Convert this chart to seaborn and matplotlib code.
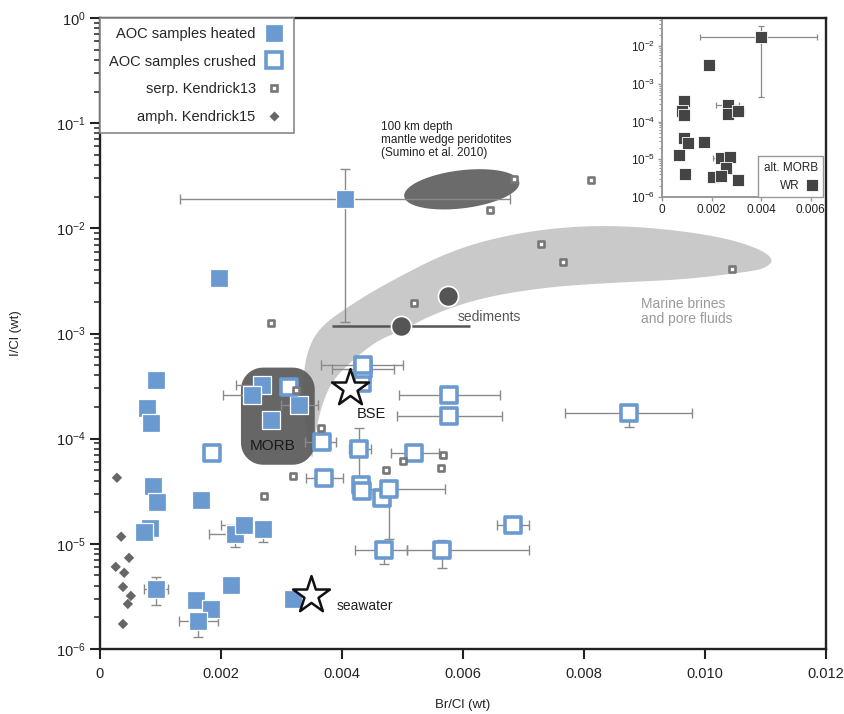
import numpy as np
import matplotlib
matplotlib.use("Agg")
import matplotlib.pyplot as plt
import seaborn as sns
from matplotlib.patches import Polygon
from matplotlib.lines import Line2D

# ---------------- data ----------------
heated_x = [0.00405, 0.00197, 0.00093, 0.00078, 0.00084, 0.00088, 0.00094, 0.00167,
            0.00083, 0.00073, 0.00093, 0.00159, 0.00183, 0.00162, 0.00217, 0.00223,
            0.00238, 0.00269, 0.00319, 0.00268, 0.00251, 0.00283, 0.00329]
heated_y = [1.89e-2, 3.34e-3, 3.65e-4, 1.97e-4, 1.42e-4, 3.57e-5, 2.51e-5, 2.63e-5,
            1.42e-5, 1.30e-5, 3.72e-6, 2.93e-6, 2.40e-6, 1.85e-6, 4.07e-6, 1.25e-5,
            1.52e-5, 1.39e-5, 2.99e-6, 3.27e-4, 2.62e-4, 1.52e-4, 2.11e-4]

crushed_x = [0.00312, 0.00185, 0.00433, 0.00435, 0.00435, 0.00577, 0.00577, 0.00367,
             0.00428, 0.00519, 0.00370, 0.00431, 0.00433, 0.00466, 0.00478, 0.00683,
             0.00469, 0.00565, 0.00874]
crushed_y = [3.13e-4, 7.36e-5, 3.40e-4, 4.60e-4, 5.07e-4, 2.62e-4, 1.66e-4, 9.36e-5,
             8.03e-5, 7.36e-5, 4.25e-5, 3.65e-5, 3.20e-5, 2.74e-5, 3.34e-5, 1.52e-5,
             8.77e-6, 8.70e-6, 1.77e-4]

serp_x = [0.00684, 0.00645, 0.00812, 0.00729, 0.00765, 0.01045, 0.00519, 0.00283,
          0.00324, 0.00365, 0.00319, 0.00271, 0.00501, 0.00567, 0.00564, 0.00473]
serp_y = [2.93e-2, 1.48e-2, 2.86e-2, 7.05e-3, 4.75e-3, 4.07e-3, 1.93e-3, 1.27e-3,
          2.93e-4, 1.27e-4, 4.44e-5, 2.87e-5, 6.17e-5, 7.04e-5, 5.30e-5, 5.07e-5]

amph_x = [0.00028, 0.00035, 0.00048, 0.00026, 0.00040, 0.00038, 0.00051, 0.00046, 0.00038]
amph_y = [4.25e-5, 1.17e-5, 7.36e-6, 6.04e-6, 5.30e-6, 3.89e-6, 3.20e-6, 2.68e-6, 1.73e-6]

sed_x = [0.00575, 0.00497]
sed_y = [2.25e-3, 1.17e-3]
sed_xlo = [0.00575, 0.00383]
sed_xhi = [0.00575, 0.00611]

star_x = [0.00413, 0.00349]
star_y = [3.06e-4, 3.27e-6]
star_names = ["BSE", "seawater"]

# error bars of AOC samples (bounds; equal to value where no bar)
err_x = [0.00405, 0.00093, 0.00162, 0.00223, 0.00238, 0.00269, 0.00251, 0.00268, 0.00329,
         0.00319, 0.00435, 0.00435, 0.00577, 0.00577, 0.00874, 0.00367, 0.00428, 0.00519,
         0.00370, 0.00478, 0.00683, 0.00469, 0.00565, 0.00185]
err_y = [1.89e-2, 3.72e-6, 1.85e-6, 1.25e-5, 1.52e-5, 1.39e-5, 2.62e-4, 3.27e-4, 2.11e-4,
         2.99e-6, 5.07e-4, 4.60e-4, 2.62e-4, 1.66e-4, 1.77e-4, 9.36e-5, 8.03e-5, 7.36e-5,
         4.25e-5, 3.34e-5, 1.52e-5, 8.77e-6, 8.70e-6, 7.36e-5]
err_xlo = [0.00132, 0.00073, 0.00131, 0.00180, 0.00200, 0.00269, 0.00203, 0.00225, 0.00300,
           0.00319, 0.00365, 0.00383, 0.00494, 0.00491, 0.00769, 0.00339, 0.00412, 0.00481,
           0.00340, 0.00446, 0.00656, 0.00421, 0.00507, 0.00175]
err_xhi = [0.00678, 0.00113, 0.00195, 0.00223, 0.00238, 0.00269, 0.00251, 0.00268, 0.00360,
           0.00319, 0.00501, 0.00486, 0.00661, 0.00664, 0.00978, 0.00390, 0.00448, 0.00560,
           0.00402, 0.00570, 0.00709, 0.00507, 0.00709, 0.00195]
err_ylo = [1.30e-3, 2.63e-6, 1.30e-6, 9.30e-6, 1.52e-5, 1.05e-5, 2.62e-4, 3.27e-4, 2.11e-4,
           2.60e-6, 5.07e-4, 4.60e-4, 2.62e-4, 1.66e-4, 1.30e-4, 9.36e-5, 3.65e-5, 7.36e-5,
           4.25e-5, 1.10e-5, 1.52e-5, 6.50e-6, 5.90e-6, 7.36e-5]
err_yhi = [3.65e-2, 4.80e-6, 1.85e-6, 1.25e-5, 1.77e-5, 1.39e-5, 2.62e-4, 3.27e-4, 2.11e-4,
           2.99e-6, 5.07e-4, 4.60e-4, 2.62e-4, 1.66e-4, 1.90e-4, 9.36e-5, 1.27e-4, 7.36e-5,
           4.25e-5, 3.34e-5, 1.52e-5, 8.77e-6, 1.09e-5, 7.36e-5]

# inset: altered MORB whole rock
wr_x = [0.00400, 0.00189, 0.00087, 0.00082, 0.00087, 0.00268, 0.00266, 0.00308, 0.00087,
        0.00103, 0.00170, 0.00068, 0.00238, 0.00275, 0.00259, 0.00092, 0.00206, 0.00237,
        0.00305]
wr_y = [1.79e-2, 3.25e-3, 3.60e-4, 1.97e-4, 1.46e-4, 2.83e-4, 1.55e-4, 1.97e-4, 3.58e-5,
        2.71e-5, 2.93e-5, 1.32e-5, 1.07e-5, 1.14e-5, 5.89e-6, 4.20e-6, 3.43e-6, 3.63e-6,
        2.81e-6]
wr_err_x = [0.00400, 0.00268, 0.00238, 0.00237, 0.00308]
wr_err_y = [1.79e-2, 2.83e-4, 1.07e-5, 3.63e-6, 1.97e-4]
wr_err_xlo = [0.00153, 0.00220, 0.00205, 0.00190, 0.00308]
wr_err_xhi = [0.00627, 0.00310, 0.00238, 0.00237, 0.00330]
wr_err_ylo = [4.40e-4, 2.83e-4, 1.07e-5, 3.63e-6, 1.97e-4]
wr_err_yhi = [3.47e-2, 2.83e-4, 1.07e-5, 3.63e-6, 1.97e-4]

# outlines of the field regions (Br/Cl, I/Cl)
band_x = [0.00350, 0.00338, 0.00335, 0.00343, 0.00363, 0.00408, 0.00470, 0.00583, 0.00693,
          0.00804, 0.00913, 0.01023, 0.01089, 0.01114, 0.01102, 0.01078, 0.00969, 0.00858,
          0.00748, 0.00639, 0.00556, 0.00495, 0.00462, 0.00424, 0.00385, 0.00368, 0.00358,
          0.00353]
band_y = [6.0e-5, 1.52e-4, 3.65e-4, 7.0e-4, 1.14e-3, 1.77e-3, 2.93e-3, 6.3e-3, 9.16e-3,
          1.07e-2, 1.02e-2, 8.39e-3, 6.45e-3, 5.07e-3, 4.25e-3, 3.9e-3, 3.27e-3, 3.06e-3,
          2.8e-3, 2.25e-3, 1.58e-3, 1.04e-3, 8.77e-4, 6.04e-4, 3.65e-4, 2.2e-4, 1.3e-4,
          7.86e-5]
morb_box = [0.00233, 0.00355, 5.65e-5, 4.74e-4]
wedge_center = (0.00598, 0.0235)

xticks = [0, 0.002, 0.004, 0.006, 0.008, 0.010, 0.012]
xticklabels = ["0", "0.002", "0.004", "0.006", "0.008", "0.010", "0.012"]
inset_xticks = [0, 0.002, 0.004, 0.006]
inset_xticklabels = ["0", "0.002", "0.004", "0.006"]

blue = "#6a9ad0"
serp_grey = "#777777"
amph_grey = "#666666"

# ---------------- style ----------------
sns.set_theme(style="ticks")
plt.rcParams["font.family"] = ["Liberation Sans", "DejaVu Sans"]
plt.rcParams["mathtext.fontset"] = "custom"
plt.rcParams["mathtext.rm"] = "Liberation Sans"
plt.rcParams["mathtext.it"] = "Liberation Sans:italic"
plt.rcParams["mathtext.bf"] = "Liberation Sans:bold"
plt.rcParams["axes.unicode_minus"] = False

fig = plt.figure(figsize=(8.45, 7.14), dpi=100)
ax = fig.add_axes([100 / 845, 65 / 714, 726 / 845, 631 / 714])
ax.set_yscale("log")
ax.set_xlim(0, 0.012)
ax.set_ylim(1e-6, 1)


def to_px(pts):
    return ax.transData.transform(np.asarray(pts))


def to_data(pts):
    return ax.transData.inverted().transform(np.asarray(pts))


def chaikin(pts, n=3):
    for _ in range(n):
        nxt = np.roll(pts, -1, axis=0)
        q = 0.75 * pts + 0.25 * nxt
        r = 0.25 * pts + 0.75 * nxt
        out = np.empty((2 * len(pts), 2))
        out[0::2] = q
        out[1::2] = r
        pts = out
    return pts


# grey band of marine brines
band_px = chaikin(to_px(np.column_stack([band_x, band_y])), 4)
ax.add_patch(Polygon(to_data(band_px), closed=True, facecolor="#c9c9c9",
                     edgecolor="none", zorder=1))

# mantle wedge peridotite field
c = to_px([wedge_center])[0]
t = np.linspace(0, 2 * np.pi, 120)
ang = np.radians(7)
a, b = 58, 19
ex = c[0] + a * np.cos(t) * np.cos(ang) - b * np.sin(t) * np.sin(ang)
ey = c[1] + a * np.cos(t) * np.sin(ang) + b * np.sin(t) * np.cos(ang)
ax.add_patch(Polygon(to_data(np.column_stack([ex, ey])), closed=True,
                     facecolor="#6b6b6b", edgecolor="none", zorder=1.2))

# MORB field (rounded box)
p0 = to_px([(morb_box[0], morb_box[2])])[0]
p1 = to_px([(morb_box[1], morb_box[3])])[0]
r = 22
arcs = []
for cx, cy, a0 in [(p1[0] - r, p1[1] - r, 0), (p0[0] + r, p1[1] - r, 90),
                   (p0[0] + r, p0[1] + r, 180), (p1[0] - r, p0[1] + r, 270)]:
    tt = np.radians(np.linspace(a0, a0 + 90, 12))
    arcs.append(np.column_stack([cx + r * np.cos(tt), cy + r * np.sin(tt)]))
ax.add_patch(Polygon(to_data(np.vstack(arcs)), closed=True, facecolor="#5a5a5a",
                     edgecolor="none", alpha=0.93, zorder=1.5))

# error bars
ex_ = np.array(err_x); ey_ = np.array(err_y)
ax.errorbar(ex_, ey_,
            xerr=[ex_ - np.array(err_xlo), np.array(err_xhi) - ex_],
            yerr=[ey_ - np.array(err_ylo), np.array(err_yhi) - ey_],
            fmt="none", ecolor="#8a8a8a", elinewidth=1, capsize=3.5, capthick=1, zorder=2)
sx = np.array(sed_x)
ax.errorbar(sx, sed_y, xerr=[sx - np.array(sed_xlo), np.array(sed_xhi) - sx],
            fmt="none", ecolor="#555555", elinewidth=1.8, capsize=0, zorder=2)

# points
sns.scatterplot(x=sed_x, y=sed_y, ax=ax, marker="o", s=210, color="#555555",
                edgecolor="white", linewidth=1.2, zorder=3, legend=False)
sns.scatterplot(x=amph_x, y=amph_y, ax=ax, marker="D", s=28, color=amph_grey,
                edgecolor="none", linewidth=0, zorder=3, legend=False)
sns.scatterplot(x=heated_x, y=heated_y, ax=ax, marker="s", s=155, color=blue,
                edgecolor="white", linewidth=0.9, zorder=4, legend=False)
sns.scatterplot(x=crushed_x, y=crushed_y, ax=ax, marker="s", s=135, facecolor="white",
                edgecolor=blue, linewidth=2.6, zorder=4, legend=False)
sns.scatterplot(x=serp_x, y=serp_y, ax=ax, marker="s", s=20, facecolor="white",
                edgecolor=serp_grey, linewidth=1.9, zorder=4.5, legend=False)
sns.scatterplot(x=star_x, y=star_y, ax=ax, marker="*", s=780, facecolor="white",
                edgecolor="#111111", linewidth=1.8, zorder=5, legend=False)

# annotations
ax.text(0.00286, 8.6e-5, "MORB", fontsize=11, color="#1a1a1a", ha="center", va="center", zorder=6)
ax.text(0.00449, 1.73e-4, star_names[0], fontsize=10.5, color="#1a1a1a", ha="center", va="center", zorder=6)
ax.text(0.00391, 2.57e-6, star_names[1], fontsize=10, color="#222222", ha="left", va="center", zorder=6)
ax.text(0.00591, 1.42e-3, "sediments", fontsize=10, color="#555555", ha="left", va="center", zorder=6)
ax.text(0.00894, 1.62e-3, "Marine brines\nand pore fluids", fontsize=10, color="#9a9a9a",
        ha="left", va="center", linespacing=1.15, zorder=6)
ax.text(0.00465, 6.9e-2, "100 km depth\nmantle wedge peridotites\n(Sumino et al. 2010)",
        fontsize=8.5, color="#222222", ha="left", va="center", linespacing=1.15, zorder=6)

# axes styling
ax.set_xticks(xticks)
ax.set_xticklabels(xticklabels)
for s in ax.spines.values():
    s.set_linewidth(1.7)
    s.set_color("#222222")
ax.tick_params(axis="both", which="major", labelsize=10.5, length=7, width=1.5,
               color="#222222", labelcolor="#222222", direction="out")
ax.tick_params(axis="x", which="major", pad=6)
ax.tick_params(axis="y", which="minor", length=4.5, width=1.1, color="#222222")
ax.set_xlabel("Br/Cl (wt)", fontsize=9.5, color="#222222")
ax.set_ylabel("I/Cl (wt)", fontsize=9.5, color="#222222")
ax.xaxis.set_label_coords(0.5, -0.079)
ax.yaxis.set_label_coords(-0.108, 0.5)

handles = [
    Line2D([], [], ls="none", marker="s", ms=12.4, color=blue, mec="white", mew=0.9),
    Line2D([], [], ls="none", marker="s", ms=11.6, mfc="white", mec=blue, mew=2.6),
    Line2D([], [], ls="none", marker="s", ms=4.4, mfc="white", mec=serp_grey, mew=1.9),
    Line2D([], [], ls="none", marker="D", ms=5.2, color=amph_grey, mec="none"),
]
labels = ["AOC samples heated", "AOC samples crushed", "serp. Kendrick13", "amph. Kendrick15"]
leg = ax.legend(handles, labels, loc="upper left", bbox_to_anchor=(0, 1), borderaxespad=0,
                markerfirst=False, fontsize=10.5, labelspacing=0.95, handlelength=1.5,
                handletextpad=0.5, borderpad=0.6, frameon=True, fancybox=False,
                edgecolor="#888888", framealpha=1)
leg.get_frame().set_linewidth(1.2)
leg.set_zorder(7)

# ---------------- inset ----------------
axin = fig.add_axes([662 / 845, (714 - 197) / 714, 161 / 845, 177 / 714])
axin.set_yscale("log")
axin.set_xlim(0, 0.0065)
axin.set_ylim(1e-6, 5e-2)
wx = np.array(wr_err_x); wy = np.array(wr_err_y)
axin.errorbar(wx, wy, xerr=[wx - np.array(wr_err_xlo), np.array(wr_err_xhi) - wx],
              yerr=[wy - np.array(wr_err_ylo), np.array(wr_err_yhi) - wy],
              fmt="none", ecolor="#8a8a8a", elinewidth=0.9, capsize=2.5, capthick=0.9, zorder=2)
sns.scatterplot(x=wr_x, y=wr_y, ax=axin, marker="s", s=68, color="#444444",
                edgecolor="white", linewidth=0.6, zorder=3, legend=False)
axin.set_xticks(inset_xticks)
axin.set_xticklabels(inset_xticklabels)
for side in ["top", "right"]:
    axin.spines[side].set_visible(False)
for side in ["left", "bottom"]:
    axin.spines[side].set_color("#999999")
    axin.spines[side].set_linewidth(1.4)
axin.tick_params(axis="both", which="major", labelsize=8.5, length=3, width=1,
                 color="#999999", labelcolor="#222222", pad=2)
axin.tick_params(axis="y", which="minor", length=2, width=0.8, color="#999999")
wr_handle = Line2D([], [], ls="none", marker="s", ms=8, color="#444444", mec="white", mew=0.6)
leg2 = axin.legend([wr_handle], ["WR"], title="alt. MORB", loc="lower right",
                   borderaxespad=0, markerfirst=False, fontsize=8.5, title_fontsize=8.5,
                   alignment="right", frameon=True, fancybox=False, edgecolor="#999999",
                   framealpha=1, handlelength=1.0, handletextpad=0.5, borderpad=0.45)
leg2.get_frame().set_linewidth(1.0)

fig.savefig("out.png", dpi=100)
